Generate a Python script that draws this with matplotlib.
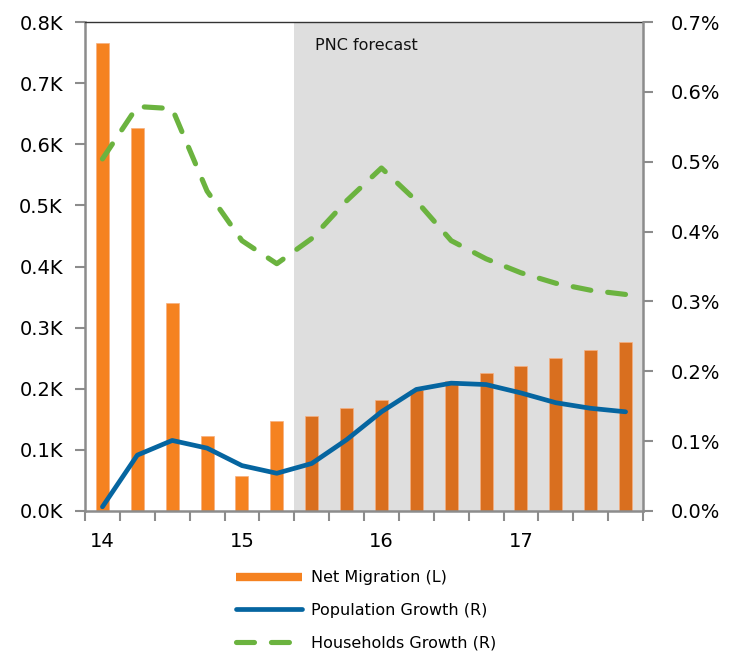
import matplotlib
matplotlib.use("Agg")
import matplotlib.pyplot as plt
from matplotlib.lines import Line2D
import numpy as np

quarters = ["14Q1", "14Q2", "14Q3", "14Q4", "15Q1", "15Q2", "15Q3", "15Q4",
            "16Q1", "16Q2", "16Q3", "16Q4", "17Q1", "17Q2", "17Q3", "17Q4"]
year_labels = ["14", "15", "16", "17"]
net_migration = [0.766, 0.626, 0.341, 0.122, 0.057, 0.148, 0.156, 0.169,
                 0.182, 0.198, 0.213, 0.226, 0.237, 0.250, 0.263, 0.276]
population_growth = [0.006, 0.080, 0.101, 0.090, 0.065, 0.054, 0.068, 0.102,
                     0.142, 0.174, 0.183, 0.181, 0.169, 0.155, 0.147, 0.142]
households_growth = [0.504, 0.579, 0.576, 0.458, 0.387, 0.354, 0.390, 0.444,
                     0.491, 0.444, 0.387, 0.361, 0.341, 0.326, 0.316, 0.310]
forecast_start = 6  # index of first forecast quarter

c_bar = "#F58220"
c_bar_fc = "#D96F1F"
c_pop = "#0565A0"
c_hh = "#6BB33F"
c_shade = "#DEDEDE"
c_axis = "#8C8C8C"

plt.rcParams['font.family'] = ['DejaVu Sans']

fig = plt.figure(figsize=(7.40, 6.51), dpi=100)
ax = fig.add_axes([85/740, 1-511/651, (643-85)/740, (511-22)/651])
x = np.arange(len(quarters))

ax.axvspan(forecast_start - 0.5, len(quarters) - 0.5, color=c_shade, zorder=0, lw=0)
colors = [c_bar if i < forecast_start else c_bar_fc for i in range(len(quarters))]
ax.bar(x, net_migration, width=0.37, color=colors, edgecolor="#F7B080", linewidth=0.5, zorder=2)
ax.set_xlim(-0.5, len(quarters) - 0.5)
ax.set_ylim(0, 0.8)
ax.set_yticks(np.arange(0, 0.81, 0.1))
ax.set_yticklabels([f"{v:.1f}K" for v in np.arange(0, 0.81, 0.1)])

ax.set_xticks(np.arange(0, len(quarters), 4))
ax.set_xticklabels(year_labels)
ax.set_xticks(np.arange(-0.5, len(quarters), 1), minor=True)
ax.tick_params(axis='x', which='major', length=0, labelsize=14, pad=15)
ax.tick_params(axis='x', which='minor', length=7, width=1.5, color=c_axis, direction='out')
ax.tick_params(axis='y', length=7, width=1.5, color=c_axis, labelsize=14, pad=9)

for s in ['left', 'bottom']:
    ax.spines[s].set_color(c_axis)
    ax.spines[s].set_linewidth(1.8)
ax.spines['right'].set_visible(False)
ax.spines['top'].set_color("#333333")
ax.spines['top'].set_linewidth(1.0)

ax.text(forecast_start - 0.5 + 0.6, 0.762, "PNC forecast", fontsize=11.5, va='center', ha='left', color="#111111")

ax2 = ax.twinx()
ax2.set_ylim(0, 0.7)
ax2.set_yticks(np.arange(0, 0.71, 0.1))
ax2.set_yticklabels([f"{v:.1f}%" for v in np.arange(0, 0.71, 0.1)])
ax2.tick_params(axis='y', length=7, width=1.5, color=c_axis, labelsize=14, pad=13)
for s in ['left', 'bottom', 'top']:
    ax2.spines[s].set_visible(False)
ax2.spines['right'].set_color(c_axis)
ax2.spines['right'].set_linewidth(1.8)

ax2.plot(x, households_growth, color=c_hh, lw=3.7, dashes=[3.5, 3.3],
         dash_capstyle='round', solid_joinstyle='round', zorder=3)
ax2.plot(x, population_growth, color=c_pop, lw=3.4, solid_capstyle='round',
         solid_joinstyle='round', zorder=4)

handles = [Line2D([], [], color=c_bar, lw=6, solid_capstyle='butt'),
           Line2D([], [], color=c_pop, lw=3.4, solid_capstyle='round'),
           Line2D([], [], color=c_hh, lw=3.7, dashes=[3.5, 3.3], dash_capstyle='round')]
labels = ["Net Migration (L)", "Population Growth (R)", "Households Growth (R)"]
fig.legend(handles, labels, loc='upper left', bbox_to_anchor=(222/740, 1-556/651),
           frameon=False, fontsize=11.5, handlelength=4.1, handletextpad=0.55,
           labelspacing=1.1)

fig.savefig("out.png", dpi=100)
